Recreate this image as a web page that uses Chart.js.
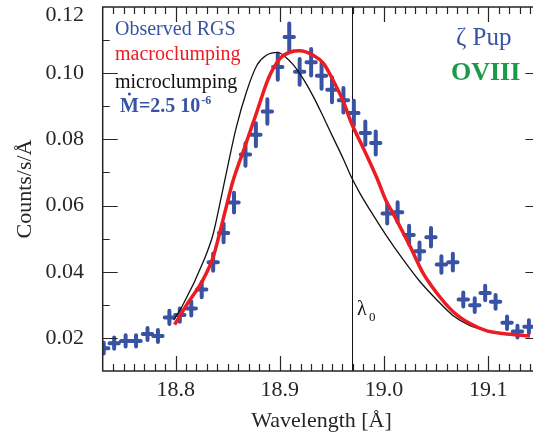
<!DOCTYPE html>
<html>
<head>
<meta charset="utf-8">
<script src="https://cdn.jsdelivr.net/npm/chart.js@4.4.1/dist/chart.umd.min.js"></script>
<style>
    html, body { margin: 0; padding: 0; background: #fff; }
    #wrap { width: 533px; height: 434px; overflow: hidden; }
    #wrap canvas { display: block; }
</style>
</head>
<body>
<div id="wrap"><canvas id="lineChart" width="546" height="434"></canvas></div>
<script>
// observed RGS spectrum (bin centres, counts/s/A, 1-sigma)
const wavelength = [18.731, 18.741, 18.752, 18.762, 18.773, 18.783, 18.794, 18.804, 18.815, 18.825,
    18.836, 18.846, 18.856, 18.867, 18.877, 18.888, 18.898, 18.909, 18.919, 18.930,
    18.940, 18.950, 18.961, 18.971, 18.982, 18.992, 19.003, 19.013, 19.024, 19.034,
    19.045, 19.055, 19.066, 19.076, 19.087, 19.097, 19.107, 19.118, 19.128, 19.139];
const counts = [0.0169, 0.0184, 0.0191, 0.0191, 0.0212, 0.0206, 0.0262, 0.0269, 0.0289, 0.0346,
    0.0429, 0.0517, 0.0609, 0.0754, 0.0814, 0.0884, 0.1019, 0.1109, 0.1004, 0.1033,
    0.0992, 0.0950, 0.0918, 0.0880, 0.0819, 0.0789, 0.0576, 0.0580, 0.0511, 0.0462,
    0.0504, 0.0422, 0.0429, 0.0316, 0.0299, 0.0336, 0.0309, 0.0246, 0.0219, 0.0234];
const countsErr = [0.0016, 0.0017, 0.0017, 0.0017, 0.0018, 0.0018, 0.0020, 0.0020, 0.0021, 0.0023,
    0.0026, 0.0028, 0.0030, 0.0034, 0.0035, 0.0037, 0.0039, 0.0041, 0.0039, 0.0040,
    0.0039, 0.0038, 0.0037, 0.0037, 0.0035, 0.0035, 0.0030, 0.0030, 0.0028, 0.0026,
    0.0028, 0.0025, 0.0025, 0.0021, 0.0021, 0.0022, 0.0021, 0.0019, 0.0018, 0.0019];
const binHalfWidth = 0.0045;

// model curves
const macroWave = [18.799, 18.812, 18.826, 18.836, 18.842, 18.850, 18.855, 18.866, 18.878, 18.889,
    18.900, 18.910, 18.919, 18.932, 18.942, 18.951, 18.961, 18.968, 18.980, 18.993,
    19.002, 19.009, 19.025, 19.037, 19.050, 19.066, 19.082, 19.098, 19.114, 19.140];
const macroFlux = [0.0240, 0.0307, 0.0374, 0.0444, 0.0514, 0.0614, 0.0674, 0.0774, 0.0884, 0.0984,
    0.1044, 0.1064, 0.1068, 0.1054, 0.1029, 0.0979, 0.0914, 0.0854, 0.0774, 0.0684,
    0.0614, 0.0574, 0.0476, 0.0398, 0.0338, 0.0280, 0.0244, 0.0222, 0.0213, 0.0206];
const microWave = [18.798, 18.806, 18.827, 18.836, 18.843, 18.849, 18.858, 18.868, 18.878, 18.887,
    18.898, 18.905, 18.913, 18.922, 18.932, 18.942, 18.951, 18.961, 18.968, 18.977,
    18.986, 19.002, 19.018, 19.034, 19.050, 19.066, 19.082, 19.098, 19.114, 19.140];
const microFlux = [0.0254, 0.0294, 0.0434, 0.0514, 0.0614, 0.0704, 0.0834, 0.0944, 0.1024, 0.1054,
    0.1063, 0.1050, 0.1025, 0.0985, 0.0930, 0.0866, 0.0806, 0.0740, 0.0690, 0.0636,
    0.0589, 0.0510, 0.0438, 0.0372, 0.0317, 0.0268, 0.0238, 0.0222, 0.0213, 0.0207];

const lambda0 = 18.969;
const xTickLabels = [18.8, 18.9, 19.0, 19.1];
const yTickLabels = [0.02, 0.04, 0.06, 0.08, 0.10, 0.12];

const BLUE = "#3953a4";
const RED = "#ec1c24";
const GREEN = "#1b9a4a";
const INK = "#262626";
const SERIF = "'Liberation Serif', 'Times New Roman', serif";

const toXY = (xs, ys) => xs.map((x, i) => ({ x: x, y: ys[i] }));

// error crosses, the rest frame line and the inward ticks/frame
const decorPlugin = {
    id: "decor",
    beforeDatasetsDraw(chart) {
        const ctx = chart.ctx;
        const xs = chart.scales.x, ys = chart.scales.y;
        const area = chart.chartArea;
        ctx.save();
        ctx.beginPath();
        ctx.rect(area.left, area.top, area.right - area.left, area.bottom - area.top);
        ctx.clip();

        // lambda_0
        ctx.strokeStyle = "#111";
        ctx.lineWidth = 1;
        const lx = Math.round(xs.getPixelForValue(lambda0)) + 0.5;
        ctx.beginPath();
        ctx.moveTo(lx, area.top);
        ctx.lineTo(lx, area.bottom);
        ctx.stroke();

        ctx.strokeStyle = BLUE;
        ctx.lineWidth = 4;
        ctx.lineCap = "round";
        wavelength.forEach((w, i) => {
            const px = xs.getPixelForValue(w);
            const py = ys.getPixelForValue(counts[i]);
            ctx.beginPath();
            ctx.moveTo(xs.getPixelForValue(w - binHalfWidth), py);
            ctx.lineTo(xs.getPixelForValue(w + binHalfWidth), py);
            ctx.moveTo(px, ys.getPixelForValue(counts[i] - countsErr[i]));
            ctx.lineTo(px, ys.getPixelForValue(counts[i] + countsErr[i]));
            ctx.stroke();
        });
        ctx.restore();
    },
    afterDraw(chart) {
        const ctx = chart.ctx;
        const xs = chart.scales.x, ys = chart.scales.y;
        const a = chart.chartArea;
        ctx.save();
        ctx.strokeStyle = INK;
        ctx.lineWidth = 1.5;
        ctx.strokeRect(a.left, a.top, a.right - a.left, a.bottom - a.top);

        ctx.lineWidth = 1.2;
        ctx.beginPath();
        for (let k = 1874; k <= 1914; k++) {
            const v = k / 100;
            const px = Math.round(xs.getPixelForValue(v)) + 0.5;
            const len = k % 10 === 0 ? 15 : 7;
            ctx.moveTo(px, a.bottom);
            ctx.lineTo(px, a.bottom - len);
            ctx.moveTo(px, a.top);
            ctx.lineTo(px, a.top + len);
        }
        for (let k = 2; k <= 11; k++) {
            const v = k / 100;
            const py = Math.round(ys.getPixelForValue(v)) + 0.5;
            const len = k % 2 === 0 ? 15 : 7;
            ctx.moveTo(a.left, py);
            ctx.lineTo(a.left + len, py);
            ctx.moveTo(a.right, py);
            ctx.lineTo(a.right - len, py);
        }
        ctx.stroke();

        // top y label sits a little inside the frame
        ctx.fillStyle = INK;
        ctx.font = "22px " + SERIF;
        ctx.textAlign = "right";
        ctx.textBaseline = "middle";
        ctx.fillText("0.12", a.left - 18.7, 15);

        // legend-like labels
        ctx.textAlign = "left";
        ctx.textBaseline = "alphabetic";
        ctx.font = "20px " + SERIF;
        ctx.fillStyle = BLUE;
        ctx.fillText("Observed RGS", 115, 35);
        ctx.fillStyle = RED;
        ctx.fillText("macroclumping", 115, 60);
        ctx.fillStyle = "#111";
        ctx.fillText("microclumping", 115, 88);

        ctx.fillStyle = BLUE;
        ctx.font = "bold 20px " + SERIF;
        ctx.fillText("M=2.5 10", 120, 111.5);
        const mw = ctx.measureText("M").width;
        ctx.beginPath();
        ctx.arc(120 + mw / 2, 94, 1.6, 0, Math.PI * 2);
        ctx.fill();
        const bw = ctx.measureText("M=2.5 10").width;
        ctx.font = "bold 12px " + SERIF;
        ctx.fillText("-6", 120 + bw + 1, 104);

        ctx.font = "25px " + SERIF;
        ctx.fillStyle = BLUE;
        ctx.fillText("\u03B6 Pup", 456, 45);
        ctx.font = "bold 26px " + SERIF;
        ctx.fillStyle = GREEN;
        ctx.fillText("OVIII", 451, 80);

        ctx.fillStyle = "#111";
        ctx.font = "20px " + SERIF;
        ctx.fillText("\u03BB", 357, 315);
        ctx.font = "13px " + SERIF;
        ctx.fillText("0", 369, 321);
        ctx.restore();
    }
};

const ctx = document.getElementById("lineChart").getContext("2d");
window.lineChartInstance = new Chart(ctx, {
    type: "line",
    data: {
        datasets: [
            {
                label: "macroclumping",
                data: toXY(macroWave, macroFlux),
                borderColor: RED,
                borderWidth: 3.5,
                pointRadius: 0,
                cubicInterpolationMode: "monotone",
                fill: false
            },
            {
                label: "microclumping",
                data: toXY(microWave, microFlux),
                borderColor: "#111",
                borderWidth: 1.3,
                pointRadius: 0,
                cubicInterpolationMode: "monotone",
                fill: false
            },
            {
                label: "Observed RGS",
                type: "scatter",
                data: toXY(wavelength, counts),
                backgroundColor: BLUE,
                borderColor: BLUE,
                pointRadius: 2.2,
                showLine: false
            }
        ]
    },
    options: {
        responsive: false,
        animation: false,
        devicePixelRatio: 1,
        layout: { padding: { left: 0, top: 7, right: 5.6, bottom: 0 } },
        plugins: {
            legend: { display: false },
            tooltip: { enabled: false }
        },
        scales: {
            x: {
                type: "linear",
                min: 18.73,
                max: 19.15,
                grid: { display: false, drawTicks: false },
                border: { display: false },
                afterBuildTicks: (s) => { s.ticks = xTickLabels.map(v => ({ value: v })); },
                afterFit: (s) => { s.height = 63; s.paddingLeft = 0; s.paddingRight = 0; },
                ticks: {
                    color: INK,
                    font: { family: SERIF, size: 22 },
                    padding: 6,
                    maxRotation: 0,
                    callback: (v) => v.toFixed(1)
                },
                title: {
                    display: true,
                    text: "Wavelength [\u00C5]",
                    color: INK,
                    font: { family: SERIF, size: 22 },
                    padding: { top: 0, bottom: 0 }
                }
            },
            y: {
                type: "linear",
                min: 0.01,
                max: 0.12,
                grid: { display: false, drawTicks: false },
                border: { display: false },
                afterBuildTicks: (s) => { s.ticks = yTickLabels.filter(v => v < 0.11).map(v => ({ value: v })); },
                afterFit: (s) => { s.width = 102.7; s.paddingTop = 0; s.paddingBottom = 0; },
                ticks: {
                    color: INK,
                    font: { family: SERIF, size: 22 },
                    padding: 18.7,
                    callback: (v) => v.toFixed(2)
                },
                title: {
                    display: true,
                    text: "Counts/s/\u00C5",
                    color: INK,
                    font: { family: SERIF, size: 22 },
                    padding: { top: 12, bottom: 0 }
                }
            }
        }
    },
    plugins: [decorPlugin]
});
</script>
</body>
</html>
